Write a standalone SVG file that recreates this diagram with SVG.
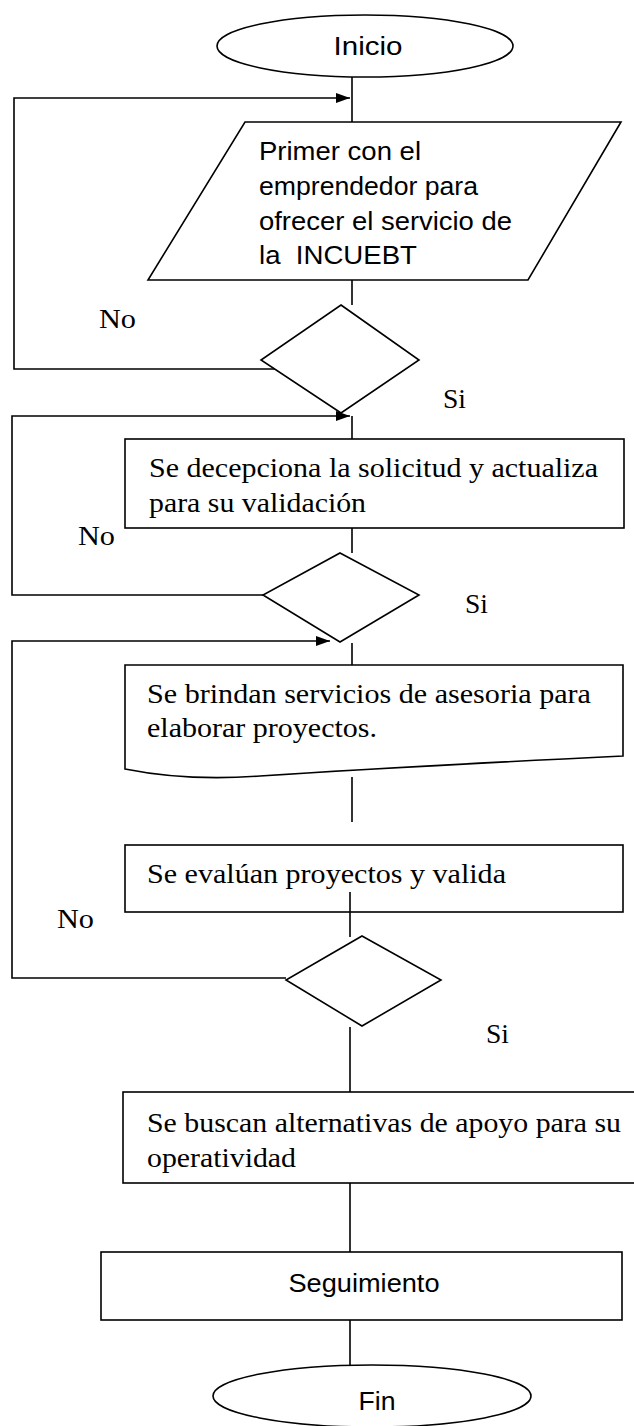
<svg xmlns="http://www.w3.org/2000/svg" width="634" height="1426" viewBox="0 0 634 1426">
<style>
.s{fill:#fff;stroke:#000;stroke-width:1.6}
.c{fill:none;stroke:#000;stroke-width:1.6}
.t{font-family:"Liberation Serif",serif;font-size:28px;fill:#000}
.o{font-family:"Liberation Sans",sans-serif;font-size:25px;fill:#000}
</style>
<defs>
<marker id="ah" viewBox="0 0 14 10" refX="14" refY="5" markerWidth="14" markerHeight="10" markerUnits="userSpaceOnUse" orient="auto">
<path d="M0,0 L14,5 L0,10 Z" fill="#000"/>
</marker>
</defs>
<rect width="634" height="1426" fill="#fff"/>
<g id="connectors">
<line class="c" x1="352" y1="77" x2="352" y2="122"/>
<polyline class="c" points="275,369 14,369 14,98 350,98" marker-end="url(#ah)"/>
<line class="c" x1="352" y1="280" x2="352" y2="305"/>
<polyline class="c" points="264,595 12,595 12,416 350,416" marker-end="url(#ah)"/>
<line class="c" x1="352" y1="416" x2="352" y2="439"/>
<line class="c" x1="352" y1="528" x2="352" y2="553"/>
<polyline class="c" points="286,978 12,978 12,641 330,641" marker-end="url(#ah)"/>
<line class="c" x1="352" y1="643" x2="352" y2="665"/>
<line class="c" x1="352" y1="777" x2="352" y2="822"/>
<line class="c" x1="350" y1="892" x2="350" y2="937"/>
<line class="c" x1="350" y1="1027" x2="350" y2="1092"/>
<line class="c" x1="350" y1="1183" x2="350" y2="1252"/>
<line class="c" x1="350" y1="1320" x2="350" y2="1366"/>
</g>
<g id="inicio">
<ellipse class="s" cx="365" cy="46" rx="148" ry="31"/>
<text class="o" x="368" y="55" text-anchor="middle" font-size="23" textLength="69" lengthAdjust="spacingAndGlyphs">Inicio</text>
</g>
<g id="primer">
<polygon class="s" points="245,122 621,122 528,280 148,280"/>
<text class="o" x="259" y="160" textLength="162" lengthAdjust="spacingAndGlyphs">Primer con el</text>
<text class="o" x="259" y="195" textLength="219" lengthAdjust="spacingAndGlyphs">emprendedor para</text>
<text class="o" x="259" y="230" textLength="253" lengthAdjust="spacingAndGlyphs">ofrecer el servicio de</text>
<text class="o" x="259" y="264" textLength="158" lengthAdjust="spacingAndGlyphs" xml:space="preserve">la  INCUEBT</text>
</g>
<g id="decision1">
<polygon class="s" points="341,305 419,360 341,413 261,360"/>
<text class="t" x="99" y="328" textLength="37" lengthAdjust="spacingAndGlyphs">No</text>
<text class="t" x="443" y="408" textLength="23" lengthAdjust="spacingAndGlyphs">Si</text>
</g>
<g id="solicitud">
<rect class="s" x="125" y="439" width="499" height="89"/>
<text class="t" x="149" y="477" textLength="449" lengthAdjust="spacingAndGlyphs">Se decepciona la solicitud y actualiza</text>
<text class="t" x="149" y="512" textLength="217" lengthAdjust="spacingAndGlyphs">para su validación</text>
</g>
<g id="decision2">
<polygon class="s" points="340,553 419,595 340,642 263,595"/>
<text class="t" x="78" y="545" textLength="37" lengthAdjust="spacingAndGlyphs">No</text>
<text class="t" x="465" y="613" textLength="23" lengthAdjust="spacingAndGlyphs">Si</text>
</g>
<g id="asesoria">
<path class="s" d="M125,665 L623,665 L623,756 C500,762 380,768 260,776 C220,779 170,778 125,769 Z"/>
<text class="t" x="147" y="703" textLength="444" lengthAdjust="spacingAndGlyphs">Se brindan servicios de asesoria para</text>
<text class="t" x="147" y="737" textLength="230" lengthAdjust="spacingAndGlyphs">elaborar proyectos.</text>
</g>
<g id="evaluan">
<rect class="s" x="125" y="845" width="498" height="67" fill-opacity="0"/>
<text class="t" x="147" y="883" textLength="359" lengthAdjust="spacingAndGlyphs">Se evalúan proyectos y valida</text>
</g>
<g id="decision3">
<polygon class="s" points="362,936 441,980 362,1026 286,980"/>
<text class="t" x="57" y="928" textLength="37" lengthAdjust="spacingAndGlyphs">No</text>
<text class="t" x="486" y="1043" textLength="23" lengthAdjust="spacingAndGlyphs">Si</text>
</g>
<g id="alternativas">
<rect class="s" x="123" y="1092" width="514" height="91"/>
<text class="t" x="147" y="1132" textLength="474" lengthAdjust="spacingAndGlyphs">Se buscan alternativas de apoyo para su</text>
<text class="t" x="147" y="1167" textLength="149" lengthAdjust="spacingAndGlyphs">operatividad</text>
</g>
<g id="seguimiento">
<rect class="s" x="101" y="1252" width="521" height="68"/>
<text class="o" x="364" y="1292" text-anchor="middle" font-size="24" textLength="151" lengthAdjust="spacingAndGlyphs">Seguimiento</text>
</g>
<g id="fin">
<ellipse class="s" cx="372" cy="1396" rx="159" ry="31"/>
<text class="o" x="377" y="1410" text-anchor="middle" font-size="24" textLength="37" lengthAdjust="spacingAndGlyphs">Fin</text>
</g>
</svg>
